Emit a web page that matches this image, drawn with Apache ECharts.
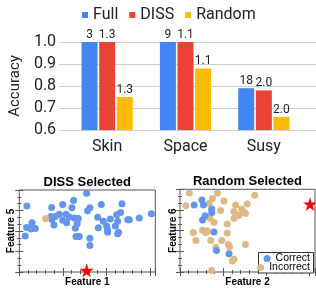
<!DOCTYPE html>
<html>
<head>
<meta charset="utf-8">
<script src="https://cdn.jsdelivr.net/npm/echarts@6/dist/echarts.min.js"></script>
<style>html,body{margin:0;padding:0;background:#fff}</style>
</head>
<body>
<div id="chart" style="width:316px;height:288px"></div>
<script>
// bar chart data
var categories = ['Skin', 'Space', 'Susy'];
var fullAcc = [1.0, 1.0, 0.79];
var dissAcc = [1.0, 1.0, 0.78];
var randomAcc = [0.75, 0.88, 0.66];
var fullLabels = ['3', '9', '18'];
var dissLabels = ['1.3', '1.1', '2.0'];
var randomLabels = ['1.3', '1.1', '2.0'];

// scatter data (feature values, 0-100 scale)
var dissCorrect = [
  [49.5, 96.1], [5.6, 80.6], [23.8, 78.7], [31.9, 82.2], [39.9, 87.2], [38.7, 78.3],
  [51.9, 78.3], [50.2, 74.8], [60.3, 82.2], [75.5, 83.3], [74.5, 72.5], [71.6, 69.8],
  [57.6, 66.7], [66.9, 64.7], [61.8, 62.0], [72.3, 62.0], [79.7, 63.6], [80.9, 63.6],
  [88.2, 65.9], [97.1, 70.9], [29.4, 70.5], [23.3, 67.8], [26.5, 67.8], [34.3, 70.5],
  [36.8, 67.1], [40.4, 65.9], [43.4, 65.1], [31.9, 63.2], [34.8, 60.1], [42.6, 58.9],
  [25.5, 57.4], [9.3, 60.1], [5.4, 54.3], [8.6, 52.3], [11.8, 53.1], [4.4, 43.8],
  [41.2, 53.5], [58.1, 53.9], [64.2, 56.2], [70.6, 56.2], [64.9, 48.4], [73.0, 48.4],
  [72.3, 46.5], [41.7, 43.4], [44.1, 43.4], [51.9, 41.1], [51.9, 32.2], [24.0, 64.0],
  [64.9, 52.3]
];
var dissIncorrect = [[19.4, 65.1]];
var dissTarget = [[49.5, 2.0]];

var randCorrect = [
  [10.5, 80.9], [16.2, 87.0], [17.4, 80.9], [23.5, 76.3], [23.5, 71.8], [18.6, 67.9],
  [16.7, 63.0], [25.2, 48.5], [27.0, 26.0], [36.3, 22.1]
];
var randIncorrect = [
  [6.9, 95.4], [4.4, 80.2], [21.6, 83.2], [24.0, 88.9], [27.7, 95.4], [32.6, 85.9],
  [30.1, 74.4], [41.2, 80.9], [49.8, 82.1], [55.4, 92.7], [40.0, 73.3], [45.6, 76.3],
  [47.3, 72.5], [48.5, 70.6], [43.6, 68.7], [40.0, 64.9], [22.1, 64.9], [25.2, 60.3],
  [35.0, 58.0], [16.7, 50.4], [19.1, 47.7], [20.3, 49.6], [9.8, 47.7], [11.8, 38.2],
  [22.8, 38.2], [30.9, 38.2], [35.0, 47.3], [35.8, 33.2], [36.8, 30.5], [26.5, 29.8],
  [48.5, 33.2], [40.0, 15.3], [38.7, 13.4], [23.5, 1.9]
];
var randTarget = [[96.3, 82.1]];

var starPath = 'path://M50,0 L61,35 L98,35 L68,57 L79,91 L50,70 L21,91 L32,57 L2,35 L39,35 Z';
var frameFont = 'Liberation Sans';
var blueDot = '#6495ED';
var tanDot = '#DEB887';

function frameAxis(gridIndex, position, name, nameGap, nameSize, interval, minorSplit) {
  return {
    type: 'value', gridIndex: gridIndex, position: position, min: 0, max: 100,
    interval: interval,
    name: name, nameLocation: 'middle', nameGap: nameGap,
    nameTextStyle: {fontFamily: frameFont, fontWeight: 'bold', fontSize: nameSize, color: '#000'},
    axisLine: {show: false},
    axisTick: {show: true, inside: true, length: 4, lineStyle: {color: '#555'}},
    minorTick: {show: true, splitNumber: minorSplit, length: 2, lineStyle: {color: '#555'}},
    axisLabel: {show: false},
    splitLine: {show: false}
  };
}

function barSeries(name, values, labels, color) {
  return {
    name: name, type: 'bar', xAxisIndex: 1, yAxisIndex: 1,
    data: values, barWidth: 16, barGap: '10%',
    itemStyle: {color: color},
    label: {
      show: true, position: 'top', distance: 1,
      fontFamily: 'Roboto', fontSize: 12, color: '#222',
      formatter: function (p) { return labels[p.dataIndex]; }
    }
  };
}

function dotSeries(name, axisIndex, data, color) {
  return {
    name: name, type: 'scatter', xAxisIndex: axisIndex, yAxisIndex: axisIndex,
    data: data, symbolSize: 7,
    itemStyle: {color: color, opacity: 1}
  };
}

var chart = echarts.init(document.getElementById('chart'));

var option = {
  animation: false,
  legend: [
    {
      data: ['Full', 'DISS', 'Random'], left: 82, top: 7, padding: 0,
      icon: 'rect', itemWidth: 6, itemHeight: 6, itemGap: 11,
      textStyle: {fontFamily: 'Roboto', fontSize: 16, color: '#222'}
    },
    {
      data: ['Correct'], right: 6, top: 253, padding: 0,
      icon: 'circle', itemWidth: 7, itemHeight: 7,
      textStyle: {fontFamily: frameFont, fontSize: 10.5, color: '#000'}
    },
    {
      data: ['Incorrect'], right: 6, top: 262, padding: 0,
      icon: 'circle', itemWidth: 7, itemHeight: 7,
      textStyle: {fontFamily: frameFont, fontSize: 10.5, color: '#000'}
    }
  ],
  graphic: [{
    type: 'rect', z: 3,
    shape: {x: 258.5, y: 252.5, width: 55, height: 20.5},
    style: {fill: '#fff', stroke: '#333', lineWidth: 1}
  }],
  grid: [
    {left: 54, right: 0, top: 42, height: 88},
    {left: 68, width: 235, top: 42, height: 88},
    {left: 19.3, width: 136, top: 190, height: 86, show: true, borderColor: '#555', borderWidth: 1},
    {left: 180, width: 135, top: 189.3, height: 87.4, show: true, borderColor: '#555', borderWidth: 1}
  ],
  xAxis: [
    {type: 'value', gridIndex: 0, min: 0, max: 1, show: false},
    {
      type: 'category', gridIndex: 1, data: categories,
      axisLine: {show: false}, axisTick: {show: false},
      axisLabel: {fontFamily: 'Roboto', fontSize: 16, color: '#222', margin: 9}
    },
    frameAxis(2, 'bottom', 'Feature 1', 5, 10, 32, 5),
    frameAxis(2, 'top', 'DISS Selected', 1, 13, 32, 5),
    frameAxis(3, 'bottom', 'Feature 2', 5, 10, 32, 5),
    frameAxis(3, 'top', 'Random Selected', 1, 13, 32, 5)
  ],
  yAxis: [
    {
      type: 'value', gridIndex: 0, min: 0.6, max: 1.0, interval: 0.1,
      name: 'Accuracy', nameLocation: 'middle', nameGap: 30,
      nameTextStyle: {fontFamily: 'Roboto', fontSize: 15, color: '#222'},
      axisLine: {show: false}, axisTick: {show: false},
      axisLabel: {fontFamily: 'Roboto', fontSize: 16, color: '#222', margin: 3,
        formatter: function (v) { return v.toFixed(1); }},
      splitLine: {lineStyle: {color: '#ccc'}}
    },
    {type: 'value', gridIndex: 1, min: 0.6, max: 1.0, show: false},
    frameAxis(2, 'left', 'Feature 5', 3, 10, 25, 3),
    frameAxis(2, 'right', '', 0, 10, 25, 3),
    frameAxis(3, 'left', 'Feature 6', 2, 10, 25, 3),
    frameAxis(3, 'right', '', 0, 10, 25, 3)
  ],
  series: [
    barSeries('Full', fullAcc, fullLabels, '#4285F4'),
    barSeries('DISS', dissAcc, dissLabels, '#EA4335'),
    barSeries('Random', randomAcc, randomLabels, '#FBBC04'),
    dotSeries('Correct', 2, dissCorrect, blueDot),
    dotSeries('Incorrect', 2, dissIncorrect, tanDot),
    {name: 'Target', type: 'scatter', xAxisIndex: 2, yAxisIndex: 2, data: dissTarget,
      symbol: starPath, symbolSize: 14, clip: false, z: 4, itemStyle: {color: '#ff0000', opacity: 1}},
    dotSeries('Incorrect', 4, randIncorrect, tanDot),
    dotSeries('Correct', 4, randCorrect, blueDot),
    {name: 'Target', type: 'scatter', xAxisIndex: 4, yAxisIndex: 4, data: randTarget,
      symbol: starPath, symbolSize: 14, clip: false, z: 4, itemStyle: {color: '#ff0000', opacity: 1}}
  ]
};

chart.setOption(option);
</script>
</body>
</html>
